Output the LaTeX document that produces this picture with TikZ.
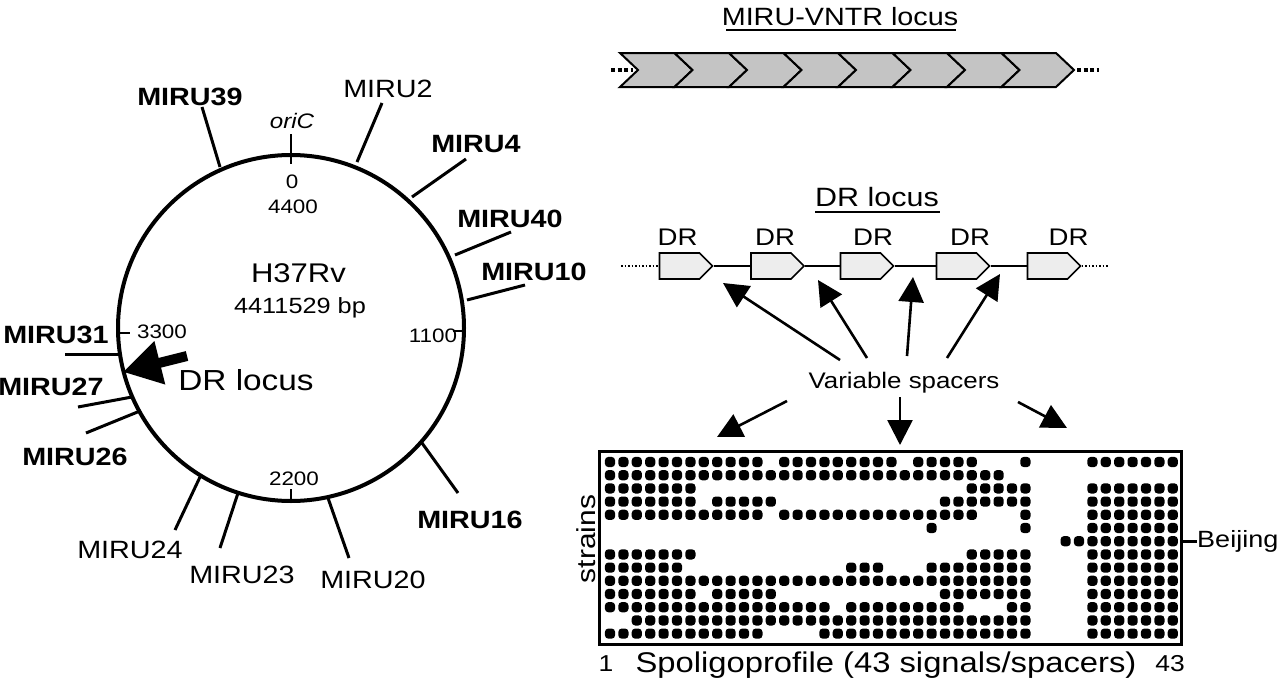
\documentclass[tikz,border=0pt]{standalone}
\usepackage{fontspec}
\setmainfont{Liberation Sans}[FakeStretch=1.15]
\usetikzlibrary{arrows.meta,shapes.symbols}
\definecolor{chev}{gray}{0.77}
\definecolor{drfill}{gray}{0.93}
\begin{document}
\begin{tikzpicture}[x=1pt,y=-1pt,
  lbl/.style={inner sep=0pt, anchor=base, font=\fontsize{25}{28}\selectfont},
  blbl/.style={inner sep=0pt, anchor=base, font=\fontsize{25}{28}\selectfont\bfseries},
  small/.style={inner sep=0pt, anchor=base, font=\fontsize{19.5}{22}\selectfont},
  tickline/.style={line width=2.2pt},
  leader/.style={line width=3pt},
  spot/.style={fill=black, rounded corners=3.5pt},
  chevron/.style={fill=chev, draw=black, line width=2pt, line join=miter},
  drbox/.style={signal, signal to=east, signal pointer angle=90, draw=black, fill=drfill,
    line width=1.6pt, minimum width=53pt, minimum height=26pt, inner sep=0pt},
  arr/.style={line width=2.6pt, -{Triangle[length=25pt,width=25pt]}},
  fatarr/.style={line width=10pt, -{Triangle[length=38pt,width=42pt]}},
  dots/.style={line width=4.5pt, dash pattern=on 4pt off 2.5pt},
]
\useasboundingbox (0,0) rectangle (1280,688);

% ---------------- chromosome ----------------
\node[circle, draw, line width=4pt, minimum size=346pt, inner sep=0pt] (chr) at (291,328) {};
\node[lbl, font=\fontsize{27}{30}\selectfont] (name) at (298.5,282) {H37Rv};
\node[lbl, font=\fontsize{22}{25}\selectfont] (size) at (300,313) {4411529 bp};

% ticks
\coordinate (o1) at (291,134); \coordinate (o2) at (291,164);
\draw[tickline] (o1) -- (o2);
\node[lbl, font=\fontsize{21}{24}\selectfont\itshape] (oric) at (292,128) {oriC};
\node[small] (t0) at (292,188) {0};
\node[small] (t4400) at (293,213) {4400};
\coordinate (k1a) at (466,331); \coordinate (k1b) at (453,331);
\draw[tickline] (k1a) -- (k1b);
\node[small] (t1100) at (433,342) {1100};
\coordinate (k2a) at (291,502); \coordinate (k2b) at (291,489);
\draw[tickline] (k2a) -- (k2b);
\node[small] (t2200) at (294,485) {2200};
\coordinate (k3a) at (116,333); \coordinate (k3b) at (130,333);
\draw[tickline] (k3a) -- (k3b);
\node[small] (t3300) at (162,338) {3300};

% MIRU leaders and labels
\foreach \n/\ix/\iy/\ox/\oy in {39/220/167/202/107, 2/357/162/382/103, 4/412/197/466/159,
  40/455/255/511/232, 10/467/300/525/285, 16/422/443/458/493, 20/328/498/349/558,
  23/238/493/220/548, 24/200/477/175/530, 26/140/411/86/433, 27/132/397/78/407,
  31/120/354/65/354}{
  \coordinate (in\n) at (\ix,\iy);
  \coordinate (out\n) at (\ox,\oy);
  \draw[leader] (in\n) -- (out\n);
}
\node[blbl] (m39) at (190,105) {MIRU39};
\node[lbl]  (m2)  at (388,97) {MIRU2};
\node[blbl] (m4)  at (476,152) {MIRU4};
\node[blbl] (m40) at (510,227) {MIRU40};
\node[blbl] (m10) at (534,280) {MIRU10};
\node[blbl] (m16) at (470,528) {MIRU16};
\node[lbl]  (m20) at (373,588) {MIRU20};
\node[lbl]  (m23) at (242,583) {MIRU23};
\node[lbl]  (m24) at (130,558) {MIRU24};
\node[blbl] (m26) at (75,465) {MIRU26};
\node[blbl] (m27) at (51,395) {MIRU27};
\node[blbl] (m31) at (56,343) {MIRU31};

% DR locus pointer
\coordinate (drtail) at (187,356);
\coordinate (drtip) at (123,372);
\draw[fatarr] (drtail) -- (drtip);
\node[lbl, font=\fontsize{29}{32}\selectfont] (drl) at (246,390) {DR locus};

% ---------------- MIRU-VNTR locus ----------------
\node[lbl] (mtitle) at (840,25) {MIRU-VNTR locus};
\draw[line width=2pt] (726,30) -- (956,30);
\foreach \i in {0,...,7}{
  \pgfmathsetmacro{\sa}{620+54.5*\i}
  \pgfmathsetmacro{\sb}{620+54.5*(\i+1)}
  \filldraw[chevron] (\sa,53) -- (\sb,53) -- ({\sb+18},70) -- (\sb,87) -- (\sa,87) -- ({\sa+18},70) -- cycle;
}
\coordinate (ml1) at (611,70); \coordinate (ml2) at (633,70);
\coordinate (mr1) at (1077,70); \coordinate (mr2) at (1099,70);
\draw[dots] (ml1) -- (ml2);
\draw[dots] (mr1) -- (mr2);

% ---------------- DR locus ----------------
\node[lbl, font=\fontsize{26.5}{29}\selectfont] (drtitle) at (877,206) {DR locus};
\draw[line width=2pt] (815,212) -- (940,212);
\node[drbox] (d1) at (679.5,266) {};
\node[drbox] (d2) at (771,266) {};
\node[drbox] (d3) at (860.5,266) {};
\node[drbox] (d4) at (956.5,266) {};
\node[drbox] (d5) at (1047.5,266) {};
\coordinate (dl) at (621,266); \coordinate (dr) at (1109,266);
\draw[line width=1.5pt, dotted] (dl) -- (d1.west);
\draw[line width=1.5pt, dotted] (d5.east) -- (dr);
\draw[line width=2pt] (d1.east) -- (d2.west);
\draw[line width=2pt] (d2.east) -- (d3.west);
\draw[line width=2pt] (d3.east) -- (d4.west);
\draw[line width=2pt] (d4.east) -- (d5.west);
\foreach \x [count=\k] in {677.5,775,873,970,1068.5}{
  \node[lbl, font=\fontsize{24}{27}\selectfont] (drlab\k) at (\x,245) {DR};
}

% ---------------- variable spacers ----------------
\node[lbl, font=\fontsize{22.5}{25}\selectfont] (vs) at (904,388) {Variable spacers};
\foreach \k/\tx/\ty/\hx/\hy in {1/840/360/723/283, 2/867/358/818/280, 3/907/356/913/277,
  4/947/358/1000/274, 5/787/401/717/437, 6/900/397/900/445, 7/1018/402/1067/428}{
  \coordinate (vt\k) at (\tx,\ty);
  \coordinate (vh\k) at (\hx,\hy);
  \draw[arr] (vt\k) -- (vh\k);
}

% ---------------- spoligotype grid ----------------
\node[draw, line width=3pt, minimum width=582pt, minimum height=193pt, inner sep=0pt] (grid) at (890,547.5) {};
\foreach \r/\a/\b in {0/1/12, 0/14/22, 0/24/28, 0/32/32, 0/37/43,
  1/1/30,
  2/1/7, 2/28/32, 2/37/43,
  3/1/7, 3/9/13, 3/26/32, 3/37/43,
  4/1/12, 4/14/28, 4/32/32, 4/37/43,
  5/25/25, 5/32/32, 5/37/43,
  6/35/43,
  7/1/7, 7/28/32, 7/37/43,
  8/1/6, 8/19/21, 8/25/32, 8/37/43,
  9/1/32, 9/37/43,
  10/1/7, 10/9/13, 10/26/32, 10/37/43,
  11/1/17, 11/19/27, 11/31/32, 11/37/43,
  12/3/32, 12/37/43,
  13/1/12, 13/17/32, 13/37/43}{
  \foreach \c in {\a,...,\b}{
    \fill[spot] ({610+13.4*(\c-1)-5.1},{462+13.2*\r-5.1}) rectangle ++(10.2,10.2);
  }
}
\coordinate (bjs) at (1180,541);
\node[lbl, font=\fontsize{23.5}{26}\selectfont, anchor=west] (bj) at (1197,541) {Beijing};
\draw[line width=3pt] (bjs) -- (bj.west);
\node[lbl, font=\fontsize{26}{29}\selectfont, rotate=90] (strains) at (595,539) {strains};
\node[lbl, font=\fontsize{23}{26}\selectfont] (one) at (606,671) {1};
\node[lbl, font=\fontsize{23}{26}\selectfont] (ft) at (1170,671) {43};
\node[lbl, font=\fontsize{28.5}{31}\selectfont] (spol) at (886,672) {Spoligoprofile (43 signals/spacers)};
\end{tikzpicture}
\end{document}
